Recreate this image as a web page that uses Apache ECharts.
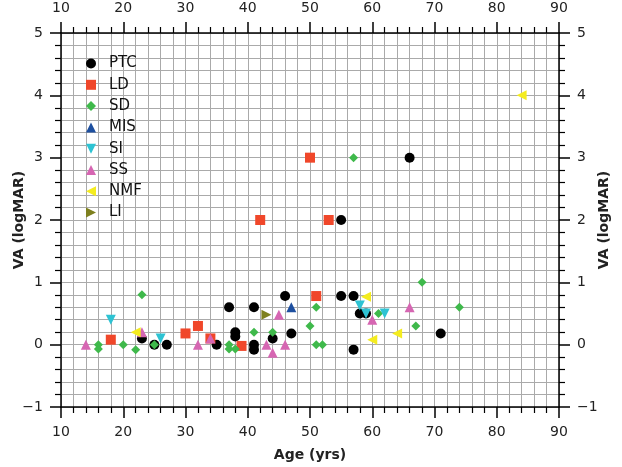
<!DOCTYPE html>
<html>
<head>
<meta charset="utf-8">
<script src="https://cdn.jsdelivr.net/npm/echarts@6/dist/echarts.min.js"></script>
<style>
  html, body { margin: 0; padding: 0; background: #fff; }
  #chart { width: 622px; height: 467px; }
</style>
</head>
<body>
<div id="chart"></div>
<script>
// 数据: [年龄, VA]
const ptc = [[23, 0.1], [25, 0], [27, 0], [35, 0], [37, 0.6], [38, 0.2], [38, 0.13], [41, 0.6], [41, 0], [41, -0.08],
  [44, 0.1], [46, 0.78], [47, 0.18], [55, 0.78], [55, 2], [57, 0.78], [57, -0.08], [58, 0.5], [59, 0.5], [66, 3], [71, 0.18]]
const ld = [[18, 0.08], [30, 0.18], [32, 0.3], [34, 0.1], [39, -0.02], [42, 2], [50, 3], [51, 0.78], [53, 2]]
const sd = [[16, 0], [16, -0.07], [20, 0], [22, -0.08], [23, 0.8], [25, 0], [37, 0], [37, -0.07], [38, -0.07], [41, 0.2],
  [44, 0.2], [50, 0.3], [51, 0.6], [51, 0], [52, 0], [57, 3], [61, 0.5], [67, 0.3], [68, 1], [74, 0.6]]
const mis = [[47, 0.6]]
const si = [[18, 0.4], [26, 0.1], [58, 0.63], [59, 0.5], [62, 0.5]]
const ss = [[14, 0], [23, 0.2], [32, 0], [34, 0.1], [43, 0], [44, -0.13], [45, 0.48], [46, 0], [60, 0.4], [66, 0.6]]
const nmf = [[22, 0.2], [59, 0.77], [60, 0.08], [64, 0.18], [84, 4]]
const li = [[43, 0.48]]

const FONT = "DejaVu Sans"

// 轴的公共样式
const axisCommon = {
  axisLine: { show: true, onZero: false, lineStyle: { color: "#000", width: 1.5 } },
  axisTick: { show: true, inside: false, length: 11, lineStyle: { color: "#000", width: 1.5 } },
  minorTick: { show: true, splitNumber: 5, length: 6, lineStyle: { color: "#000", width: 1.2 } },
  splitLine: { show: true, lineStyle: { color: "#aaaaaa", width: 1 } },
  minorSplitLine: { show: true, lineStyle: { color: "#aaaaaa", width: 1 } },
  axisLabel: {
    color: "#222", fontSize: 14, fontFamily: FONT, margin: 18,
    formatter: v => String(v).replace("-", "\u2212")
  }
}

const xAxisBase = Object.assign({ type: "value", min: 10, max: 90, interval: 10 }, axisCommon)
const yAxisBase = Object.assign({ type: "value", min: -1, max: 5, interval: 1 }, axisCommon)

const nameStyle = { color: "#222", fontSize: 14, fontWeight: "bold", fontFamily: FONT }

const chart = echarts.init(document.getElementById("chart"))

const makeSeries = (name, data, symbol, color, size) => ({
  name: name,
  type: "scatter",
  data: data,
  symbol: symbol,
  symbolSize: size,
  itemStyle: { color: color, opacity: 1 },
  emphasis: { disabled: true }
})

chart.setOption({
  animation: false,
  grid: { left: 61, right: 63, top: 33, bottom: 60, containLabel: false, outerBoundsMode: "none" },
  legend: {
    orient: "vertical",
    left: 81,
    top: 51,
    itemWidth: 10,
    itemHeight: 10,
    itemGap: 6.3,
    textStyle: { fontSize: 15, fontFamily: FONT, color: "#111", lineHeight: 14, padding: [0, 0, 0, 8] },
    data: ["PTC", "LD", "SD", "MIS", "SI", "SS", "NMF", "LI"]
  },
  xAxis: [
    Object.assign({}, xAxisBase, {
      position: "bottom",
      name: "Age (yrs)",
      nameLocation: "middle",
      nameGap: 41,
      nameMoveOverlap: false,
      nameTextStyle: nameStyle
    }),
    Object.assign({}, xAxisBase, { position: "top" })
  ],
  yAxis: [
    Object.assign({}, yAxisBase, {
      position: "left",
      name: "VA (logMAR)",
      nameLocation: "middle",
      nameGap: 35,
      nameMoveOverlap: false,
      nameTextStyle: nameStyle
    }),
    Object.assign({}, yAxisBase, {
      position: "right",
      name: "VA (logMAR)",
      nameLocation: "middle",
      nameGap: 38,
      nameMoveOverlap: false,
      nameTextStyle: nameStyle
    })
  ],
  series: [
    makeSeries("PTC", ptc, "circle", "#000000", 10),
    makeSeries("LD", ld, "rect", "#f0472a", 10),
    makeSeries("SD", sd, "diamond", "#3fb94b", 9),
    makeSeries("MIS", mis, "triangle", "#1d4f9f", 10),
    makeSeries("SI", si, "path://M0,0L10,0L5,10Z", "#2ec3d3", 10),
    makeSeries("SS", ss, "triangle", "#d666b2", 10),
    makeSeries("NMF", nmf, "path://M10,0L10,10L0,5Z", "#f4ec1f", 10),
    makeSeries("LI", li, "path://M0,0L10,5L0,10Z", "#7e801f", 10)
  ]
})
</script>
</body>
</html>
